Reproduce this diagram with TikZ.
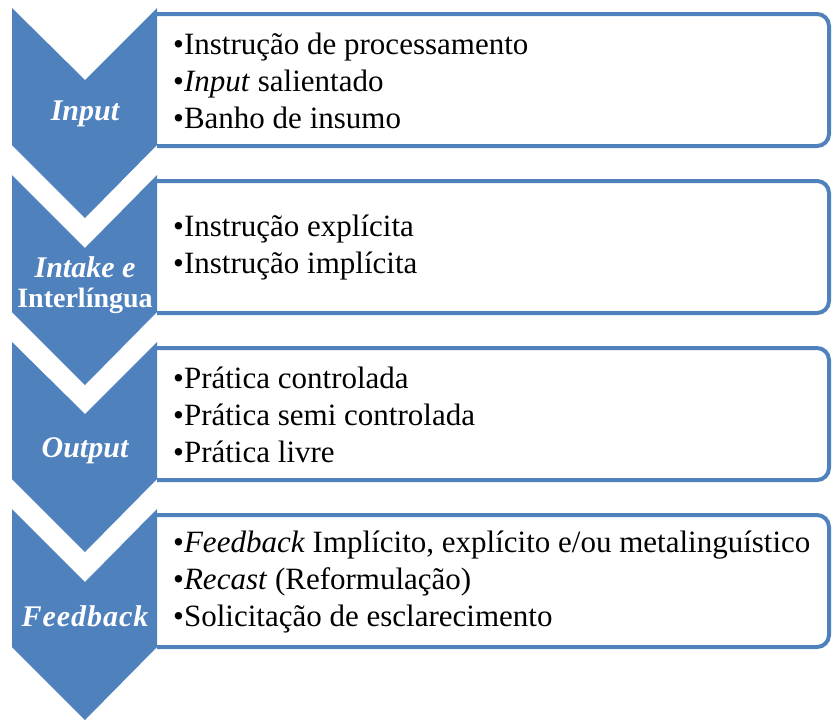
\documentclass[tikz,border=0pt]{standalone}
\usepackage{fontspec}
\setmainfont{Liberation Serif}
\definecolor{chevblue}{RGB}{79,129,189}

\begin{document}
\begin{tikzpicture}[x=1pt,y=-1pt]
                \useasboundingbox (0,0) rectangle (832,720);

                \begin{scope}[every path/.style={draw=chevblue, line width=4pt, fill=white, rounded corners=12pt}]
                        \path (157,14) -| (829,146) -- (157,146);
                        \path (157,181) -| (829,313) -- (157,313);
                        \path (157,348) -| (829,480) -- (157,480);
                        \path (157,515) -| (829,647) -- (157,647);
                \end{scope}

                \begin{scope}[every path/.style={fill=chevblue}]
                        \path (12,8) -- (85,80) -- (157,8) -- (157,145) -- (85,218) -- (12,145) -- cycle;
                        \path (12,175) -- (85,248) -- (157,175) -- (157,312) -- (85,385) -- (12,312) -- cycle;
                        \path (12,342) -- (85,414) -- (157,342) -- (157,479) -- (85,552) -- (12,479) -- cycle;
                        \path (12,509) -- (85,582) -- (157,509) -- (157,647) -- (85,720) -- (12,647) -- cycle;
                \end{scope}

                \begin{scope}[every node/.style={text=white, font=\fontsize{30}{30}\selectfont\bfseries, align=center, inner sep=0}]
                        \node (Inp) at (85,114) {\itshape Input};
                        \node (Int) at (85,285) {\itshape Intake e\\\fontsize{28}{28}\selectfont Interlíngua};
                        \node (Out) at (85,451) {\itshape Output};
                        \node (Fdb) at (85,616) {\itshape F\kern1pt e\kern1pt e\kern1pt d\kern1pt b\kern1pt a\kern1pt c\kern1pt k};
                \end{scope}

                \begin{scope}[every node/.style={anchor=west, align=left, inner sep=0, font=\fontsize{31}{37}\selectfont}]
                        \node (LInp) at (173,81) {•Instrução de processamento\\•\textit{Input} salientado\\•Banho de insumo};
                        \node (LInt) at (173,248) {•Instrução explícita\\•Instrução implícita};
                        \node (LOut) at (173,415) {•Prática controlada\\•Prática semi controlada\\•Prática livre};
                        \node (LFdb) at (173,582) {•\textit{Feedback} Implícito, explícito e/ou metalinguístico\\•\textit{Recast} (Reformulação)\\•Solicitação de esclarecimento};
                \end{scope}
\end{tikzpicture}
\end{document}
